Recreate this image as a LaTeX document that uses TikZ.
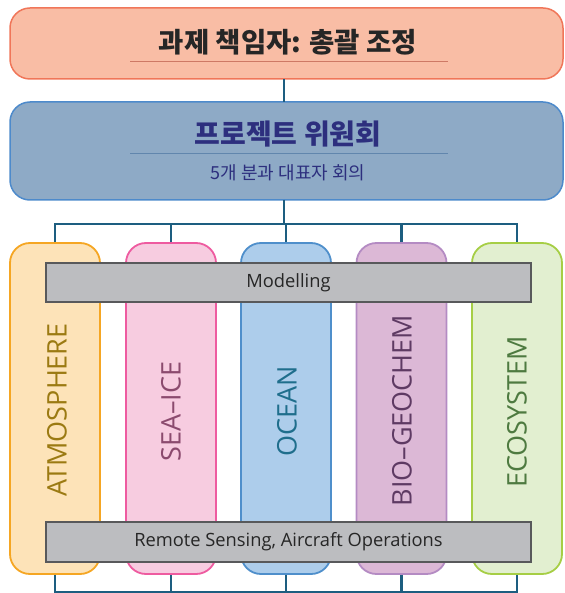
\documentclass[tikz,border=0pt]{standalone}
\usepackage{fontspec}
\setmainfont{Open Sans}
\newfontfamily\kr{Noto Sans CJK KR}
\definecolor{conncol}{HTML}{1D5E80}
\definecolor{topfill}{HTML}{F9BDA5}
\definecolor{topdraw}{HTML}{F07659}
\definecolor{pcfill}{HTML}{8EAAC6}
\definecolor{pcdraw}{HTML}{4D8ACB}
\definecolor{navy}{HTML}{2D2F7E}
\definecolor{grayfill}{HTML}{BCBDC0}
\definecolor{graydraw}{HTML}{58595B}
\definecolor{afill}{HTML}{FDE3B8}\definecolor{adraw}{HTML}{F5A623}\definecolor{atext}{HTML}{9B7A12}
\definecolor{sfill}{HTML}{F7CCE0}\definecolor{sdraw}{HTML}{EE5BA0}\definecolor{stext}{HTML}{8B4A6E}
\definecolor{ofill}{HTML}{ADCDEB}\definecolor{odraw}{HTML}{4F8FCB}\definecolor{otext}{HTML}{1F6E8C}
\definecolor{bfill}{HTML}{DCB8D6}\definecolor{bdraw}{HTML}{B48BC3}\definecolor{btext}{HTML}{5E3A63}
\definecolor{efill}{HTML}{E2EFD0}\definecolor{edraw}{HTML}{A6CE45}\definecolor{etext}{HTML}{4E7A40}
\tikzset{
  conn/.style={draw=conncol, line width=2.5pt},
  bigbox/.style={rectangle, rounded corners=20pt, line width=1.5pt, minimum width=553pt},
  colbox/.style={rectangle, rounded corners=20pt, line width=1.8pt, minimum width=90pt, minimum height=331pt},
  collabel/.style={rotate=90, font=\fontsize{27}{27}\selectfont},
  graybox/.style={rectangle, fill=grayfill, draw=graydraw, line width=1.5pt, minimum width=485pt, font=\fontsize{18.3}{18.3}\selectfont, text=black!85},
  rule/.style={draw=#1, line width=0.6pt}
}
\begin{document}
\begin{tikzpicture}[x=1pt,y=-1pt]
\useasboundingbox (0,0) rectangle (564,593);
% top boxes
\node[bigbox, fill=topfill, draw=topdraw, minimum height=71pt] (top) at (286.5,43.5) {};
\node[font=\kr\bfseries\fontsize{27.5}{27.5}\selectfont, text=black!85] (toptxt) at (288,42) {과제 책임자: 총괄 조정};
\coordinate (tl1) at (130,61); \coordinate (tl2) at (448,61);
\draw[rule=topdraw!70!gray] (tl1) -- (tl2);

\node[bigbox, fill=pcfill, draw=pcdraw, minimum height=98pt] (pc) at (286.5,151) {};
\node[font=\kr\bfseries\fontsize{28}{28}\selectfont, text=navy] (pctxt) at (288,134) {프로젝트 위원회};
\coordinate (pl1) at (130,153); \coordinate (pl2) at (448,153);
\draw[rule=pcdraw!60!gray] (pl1) -- (pl2);
\node[font=\kr\fontsize{18}{18}\selectfont, text=navy] (pcsub) at (288,173) {5개 분과 대표자 회의};

\coordinate (topc) at (284,79);
\coordinate (pctop) at (284,102);
\coordinate (pcbot) at (284,200);
\coordinate (bus) at (284,224);
\coordinate (bbus) at (284,592);
\draw[conn] (topc) -- (pctop);
\draw[conn] (pcbot) -- (bus);

% columns
\node[colbox, fill=afill, draw=adraw] (c1) at (55,408.5) {};
\node[colbox, fill=sfill, draw=sdraw] (c2) at (171,408.5) {};
\node[colbox, fill=ofill, draw=odraw] (c3) at (286,408.5) {};
\node[colbox, fill=bfill, draw=bdraw] (c4) at (401.5,408.5) {};
\node[colbox, fill=efill, draw=edraw] (c5) at (517,408.5) {};

% bus lines
\draw[conn] (c1.north) -- (c1.north |- bus) -- (c5.north |- bus) -- (c5.north);
\draw[conn] (c2.north) -- (c2.north |- bus);
\draw[conn] (c3.north) -- (c3.north |- bus);
\draw[conn] (c4.north) -- (c4.north |- bus);
\draw[conn] (c1.south) -- (c1.south |- bbus) -- (c5.south |- bbus) -- (c5.south);
\draw[conn] (c2.south) -- (c2.south |- bbus);
\draw[conn] (c3.south) -- (c3.south |- bbus);
\draw[conn] (c4.south) -- (c4.south |- bbus);

% column labels
\node[collabel, text=atext] (l1) at (57,410) {ATMOSPHERE};
\node[collabel, text=stext] (l2) at (171,411.5) {SEA–ICE};
\node[collabel, text=otext] (l3) at (287,411) {OCEAN};
\node[collabel, text=btext] (l4) at (402,410.5) {BIO–GEOCHEM};
\node[collabel, text=etext] (l5) at (517,412) {ECOSYSTEM};

% gray bands
\node[graybox, minimum height=39pt] (mod) at (288.5,282.5) {Modelling};
\node[graybox, minimum height=40pt] (rs) at (288.5,542) {Remote Sensing, Aircraft Operations};
\end{tikzpicture}
\end{document}
